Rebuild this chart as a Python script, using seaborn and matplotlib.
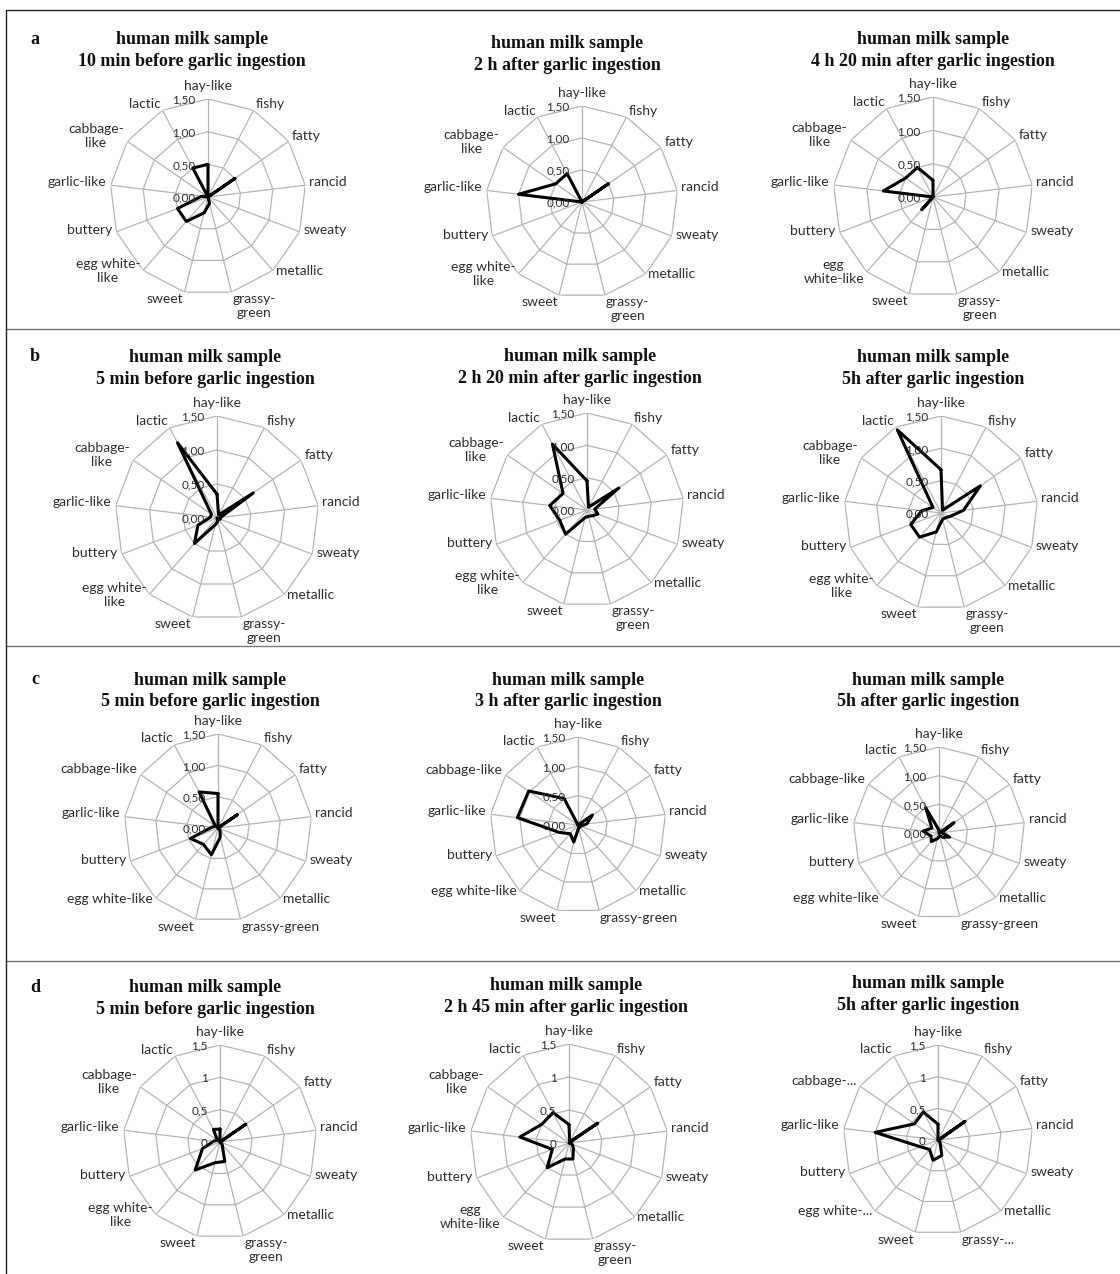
import numpy as np
import pandas as pd
import matplotlib
matplotlib.use("Agg")
import matplotlib.pyplot as plt
import seaborn as sns
from matplotlib.lines import Line2D

# odour attributes, clockwise from the top
attributes = ["hay-like", "fishy", "fatty", "rancid", "sweaty", "metallic",
              "grassy-green", "sweet", "egg white-like", "buttery",
              "garlic-like", "cabbage-like", "lactic"]

# axis label variants as they are wrapped in the different panels
labels_wrap = ["hay-like", "fishy", "fatty", "rancid", "sweaty", "metallic",
               "grassy-\ngreen", "sweet", "egg white-\nlike", "buttery",
               "garlic-like", "cabbage-\nlike", "lactic"]
labels_wrap_egg = ["hay-like", "fishy", "fatty", "rancid", "sweaty", "metallic",
                   "grassy-\ngreen", "sweet", "egg\nwhite-like", "buttery",
                   "garlic-like", "cabbage-\nlike", "lactic"]
labels_cut = ["hay-like", "fishy", "fatty", "rancid", "sweaty", "metallic",
              "grassy-...", "sweet", "egg white-...", "buttery",
              "garlic-like", "cabbage-...", "lactic"]

ticks_abc = ["0,00", "0,50", "1,00", "1,50"]
ticks_d = ["0", "0,5", "1", "1,5"]
ring_values = [0.0, 0.5, 1.0, 1.5]

row_letters = ["a", "b", "c", "d"]

titles = [
    "10 min before garlic ingestion", "2 h after garlic ingestion", "4 h 20 min after garlic ingestion",
    "5 min before garlic ingestion", "2 h 20 min after garlic ingestion", "5h after garlic ingestion",
    "5 min before garlic ingestion", "3 h after garlic ingestion", "5h after garlic ingestion",
    "5 min before garlic ingestion", "2 h 45 min after garlic ingestion", "5h after garlic ingestion",
]

# median intensities, in attribute order
a_before = [0.50, 0.00, 0.50, 0.00, 0.00, 0.00, 0.10, 0.25, 0.50, 0.50, 0.10, 0.00, 0.50]
a_2h = [0.00, 0.00, 0.50, 0.00, 0.00, 0.00, 0.00, 0.00, 0.00, 0.00, 1.00, 0.50, 0.50]
a_4h20 = [0.25, 0.00, 0.00, 0.00, 0.00, 0.00, 0.00, 0.00, 0.25, 0.00, 0.75, 0.50, 0.50]
b_before = [0.35, 0.05, 0.65, 0.05, 0.05, 0.00, 0.05, 0.10, 0.50, 0.30, 0.10, 0.10, 1.25]
b_2h20 = [0.45, 0.05, 0.60, 0.12, 0.18, 0.12, 0.10, 0.12, 0.50, 0.45, 0.58, 0.45, 1.15]
b_5h = [0.67, 0.05, 0.74, 0.35, 0.15, 0.10, 0.10, 0.30, 0.50, 0.50, 0.30, 0.15, 1.45]
c_before = [0.55, 0.00, 0.37, 0.00, 0.00, 0.05, 0.15, 0.44, 0.35, 0.47, 0.10, 0.05, 0.65]
c_3h = [0.00, 0.00, 0.30, 0.15, 0.05, 0.05, 0.05, 0.30, 0.20, 0.35, 1.04, 1.02, 0.51]
c_5h = [0.05, 0.00, 0.32, 0.05, 0.20, 0.10, 0.05, 0.10, 0.20, 0.15, 0.28, 0.15, 0.50]
d_before = [0.20, 0.00, 0.48, 0.00, 0.00, 0.05, 0.31, 0.33, 0.58, 0.29, 0.10, 0.05, 0.22]
d_2h45 = [0.28, 0.02, 0.53, 0.00, 0.05, 0.10, 0.25, 0.25, 0.50, 0.27, 0.75, 0.50, 0.52]
d_5h = [0.25, 0.00, 0.52, 0.02, 0.00, 0.05, 0.25, 0.33, 0.20, 0.30, 1.00, 0.45, 0.50]

FIG_W, FIG_H = 1120, 1274

sns.set_theme(style="white")
plt.rcParams["font.family"] = ["Lato", "DejaVu Sans"]

fig = plt.figure(figsize=(FIG_W / 100, FIG_H / 100), dpi=100)

# layout: radar centre (px), radius of the 1.5 ring (px), title x and first line y (px)
panels = [
    (a_before, labels_wrap, ticks_abc, 208, 197, 98, 192, 39),
    (a_2h, labels_wrap, ticks_abc, 582, 202, 96, 567, 43),
    (a_4h20, labels_wrap_egg, ticks_abc, 933, 197, 100, 933, 39),
    (b_before, labels_wrap, ticks_abc, 217, 518, 102, 205, 357),
    (b_2h20, labels_wrap, ticks_abc, 587, 510, 97, 580, 356),
    (b_5h, labels_wrap, ticks_abc, 941, 513, 97, 933, 357),
    (c_before, attributes, ticks_abc, 218, 828, 94, 210, 680),
    (c_3h, attributes, ticks_abc, 578, 825, 88, 568, 680),
    (c_5h, attributes, ticks_abc, 939, 833, 86, 928, 680),
    (d_before, labels_wrap, ticks_d, 220, 1142, 97, 205, 987),
    (d_2h45, labels_wrap_egg, ticks_d, 569, 1143, 99, 566, 986),
    (d_5h, labels_cut, ticks_d, 938, 1140, 95, 928, 983),
]

theta = np.linspace(0, 2 * np.pi, len(attributes), endpoint=False)
theta_closed = np.append(theta, theta[0])
grid_color = "#b4b4b4"
text_color = "#2e2e2e"


def draw_radar(values, labels, ticks, cx, cy, rad, tx, ty, title):
    w = 2 * rad / FIG_W
    h = 2 * rad / FIG_H
    ax = fig.add_axes([cx / FIG_W - w / 2, 1 - cy / FIG_H - h / 2, w, h], projection="polar")
    ax.set_theta_zero_location("N")
    ax.set_theta_direction(-1)

    # polygonal grid
    for r in ring_values[1:]:
        ax.plot(theta_closed, [r] * len(theta_closed), color=grid_color, lw=0.9, zorder=1)
    for t in theta:
        ax.plot([t, t], [0, 1.5], color=grid_color, lw=0.9, zorder=1)

    df = pd.DataFrame({"theta": theta_closed, "value": list(values) + [values[0]]})
    sns.lineplot(data=df, x="theta", y="value", sort=False, estimator=None,
                 color="black", lw=2.2, ax=ax, zorder=3)
    ax.set_ylim(0, 1.5)
    ax.axis("off")

    for t, lab in zip(theta, labels):
        s, c = np.sin(t), np.cos(t)
        ha = "left" if s > 0.15 else ("right" if s < -0.15 else "center")
        if c > 0.9:
            va = "bottom"
        elif c < -0.9:
            va = "top"
        else:
            va = "center"
        ax.annotate(lab, xy=(t, 1.5), xytext=(s * 3, c * 3 + 2), textcoords="offset points",
                    ha=ha, va=va, fontsize=10, color=text_color, multialignment="center",
                    annotation_clip=False)

    for r, tk in zip(ring_values, ticks):
        ax.annotate(tk, xy=(0, r), xytext=(-9, -1), textcoords="offset points",
                    ha="right", va="center", fontsize=8.5, color=text_color,
                    annotation_clip=False)

    fig.text(tx / FIG_W, 1 - ty / FIG_H, "human milk sample", ha="center", va="center",
             fontsize=13, fontweight="bold", family="Liberation Serif", color="#111111")
    fig.text(tx / FIG_W, 1 - (ty + 22) / FIG_H, title, ha="center", va="center",
             fontsize=13, fontweight="bold", family="Liberation Serif", color="#111111")


for p, title in zip(panels, titles):
    draw_radar(*p, title)


# frame and row separators
def hline(y, x0, x1, color, lw):
    fig.add_artist(Line2D([x0 / FIG_W, x1 / FIG_W], [1 - y / FIG_H, 1 - y / FIG_H],
                          color=color, lw=lw, transform=fig.transFigure))


hline(10, 6, FIG_W, "#222222", 1.0)
for y in [329, 646, 961]:
    hline(y, 6, FIG_W, "#777777", 1.0)
fig.add_artist(Line2D([6 / FIG_W, 6 / FIG_W], [1 - 10 / FIG_H, 0], color="#222222", lw=1.0,
                      transform=fig.transFigure))

for letter, y in zip(row_letters, [39, 356, 679, 987]):
    fig.text(35 / FIG_W, 1 - y / FIG_H, letter, ha="center", va="center",
             fontsize=13, fontweight="bold", family="Liberation Serif", color="#111111")

fig.savefig("out.png", dpi=100, facecolor="white")
